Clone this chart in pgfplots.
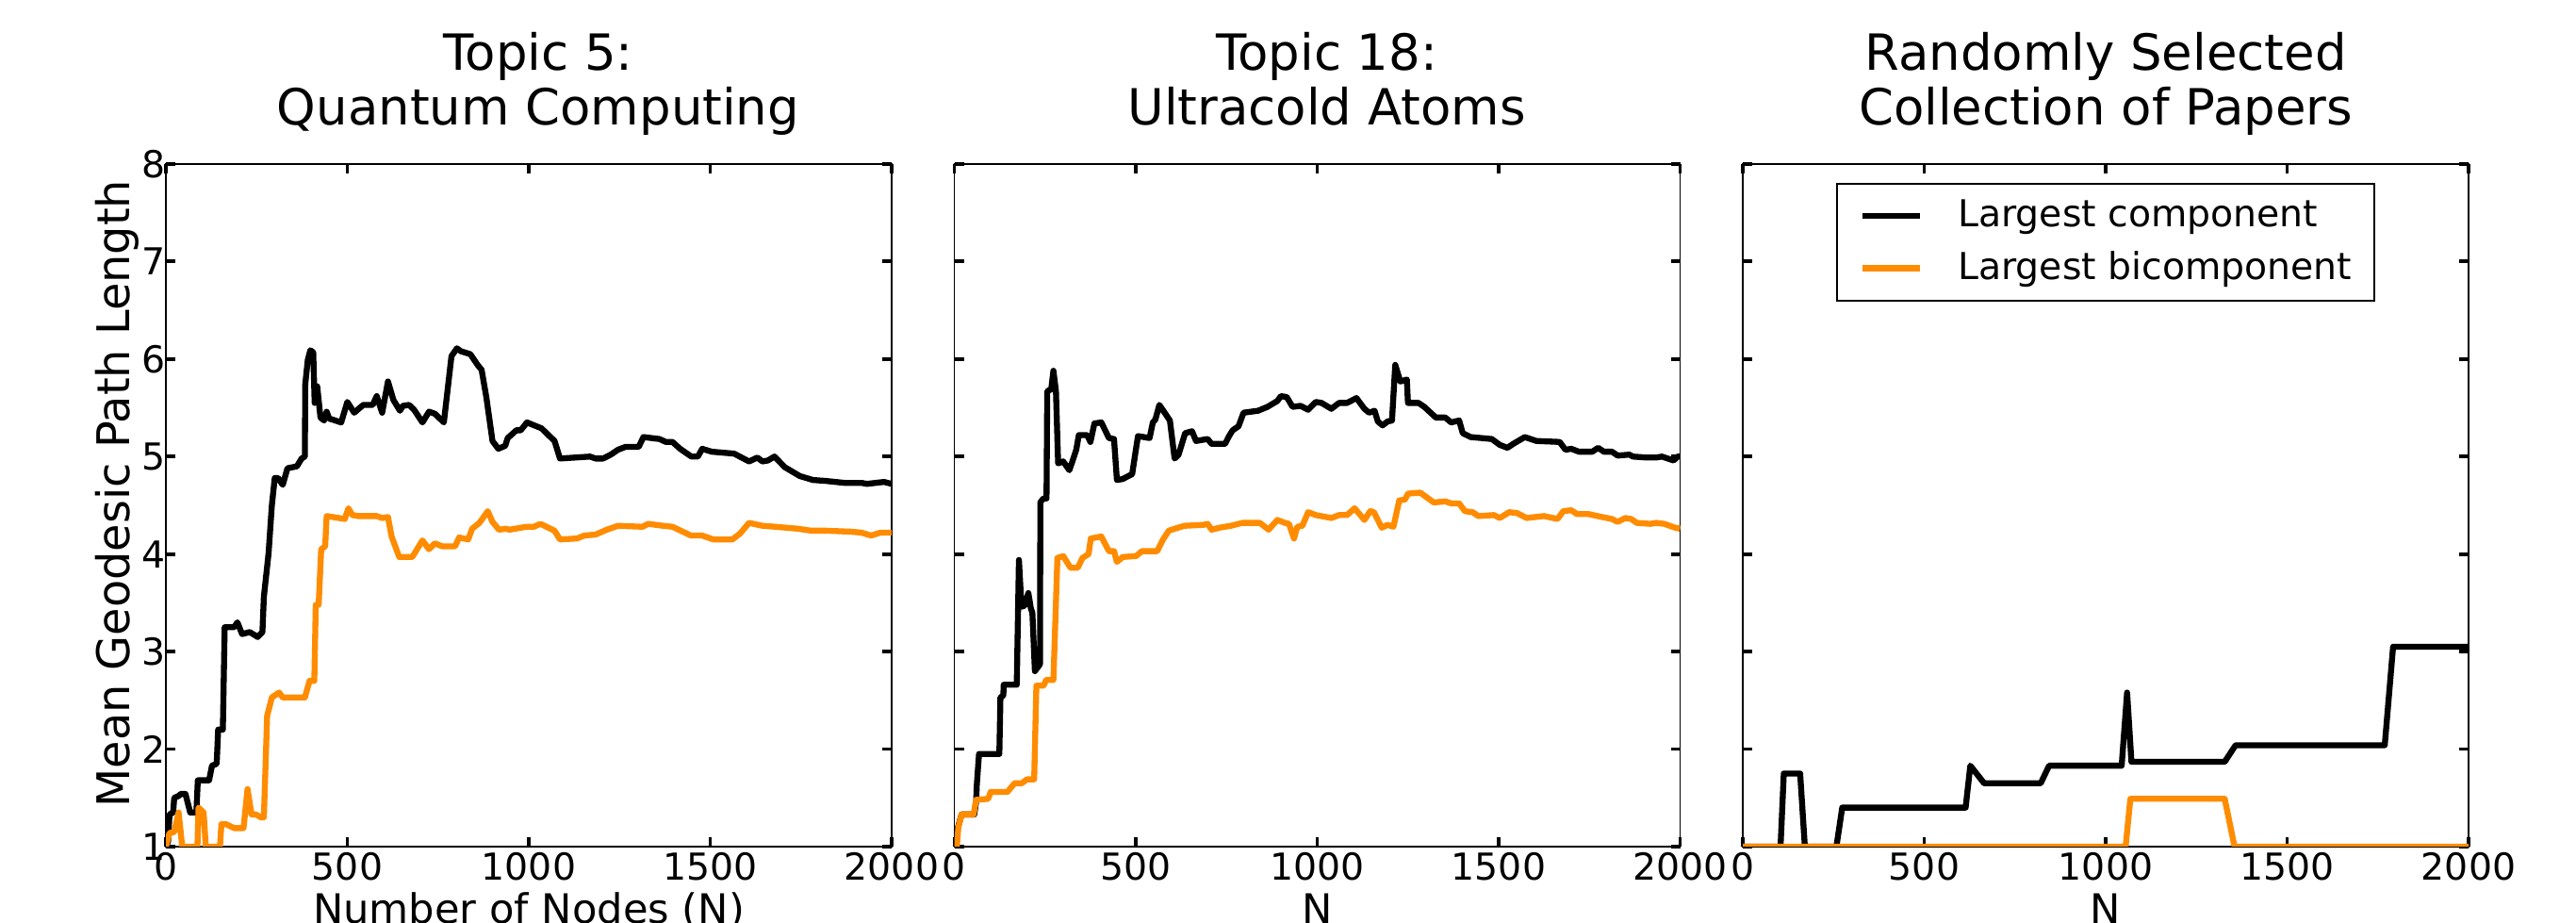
\documentclass[border=0pt]{standalone}
\usepackage{fontspec}
\setmainfont{DejaVu Sans}
\usepackage{pgfplots}
\pgfplotsset{compat=1.18}

\definecolor{dorange}{RGB}{255,140,0}
\newcommand\titlesize{\fontsize{15.05}{18}\selectfont}
\newcommand\xlabsize{\fontsize{12.3}{14}\selectfont}
\newcommand\ylabsize{\fontsize{13.6}{16}\selectfont}
\newcommand\ticksize{\fontsize{11.2}{13}\selectfont}

% one style for the three panels
\pgfplotsset{
  panel/.style={
    scale only axis, width=7.70cm, height=7.24cm,
    anchor=south west,
    xmin=0, xmax=2000, ymin=1, ymax=8,
    xtick={0,500,1000,1500,2000}, ytick={1,2,3,4,5,6,7,8},
    tick align=inside, major tick length=0.1cm,
    every tick/.style={black, line width=1.1pt},
    axis line style={black, line width=0.4pt},
    /pgf/number format/assume math mode=true,
    /pgf/number format/1000 sep={},
    tick label style={font=\ticksize},
    xticklabel style={inner sep=0pt, yshift=-0.06cm},
    yticklabel style={inner sep=0pt},
    xlabel style={font=\xlabsize, at={(axis description cs:0.5,-0.1119)}, anchor=base, inner sep=0pt},
    ylabel style={font=\ylabsize, at={(axis description cs:-0.0506,0.517)}, anchor=base, inner sep=0pt},
    every axis plot/.append style={line width=1.8pt, line join=round},
  },
}

\begin{document}
\begin{tikzpicture}
\useasboundingbox (0cm,0cm) rectangle (27.33cm,9.79cm);

% Topic 5
\begin{axis}[panel, name=ax1, at={(1.76cm,0.81cm)},
  xlabel={Number of Nodes (N)}, ylabel={Mean Geodesic Path Length}]
\addplot[black] coordinates {
(0,1.0)(6,1.05)(10,1.33)(20,1.35)(23,1.50)(35,1.52)(41,1.54)(54,1.54)(67,1.35)(84,1.35)
(88,1.68)(119,1.68)(127,1.83)(140,1.85)(144,2.20)(157,2.20)(162,3.25)(188,3.25)(197,3.30)(210,3.18)
(231,3.20)(253,3.15)(266,3.20)(270,3.56)(283,4.01)(292,4.50)(300,4.78)(309,4.78)(322,4.71)(335,4.88)
(361,4.90)(374,4.98)(383,5.00)(384,5.74)(391,5.99)(398,6.09)(406,6.07)(410,5.55)(417,5.72)(426,5.40)
(436,5.37)(443,5.46)(450,5.39)(483,5.35)(500,5.56)(519,5.45)(544,5.53)(570,5.53)(581,5.62)(596,5.45)
(612,5.77)(627,5.58)(645,5.47)(653,5.52)(670,5.53)(684,5.48)(707,5.35)(725,5.46)(741,5.44)(766,5.35)
(787,6.03)(802,6.11)(813,6.08)(839,6.05)(859,5.94)(870,5.89)(883,5.61)(900,5.16)(916,5.08)(935,5.11)
(942,5.19)(966,5.27)(978,5.27)(995,5.35)(1035,5.29)(1071,5.16)(1086,4.98)(1169,5.00)(1184,4.98)(1205,4.98)
(1226,5.02)(1246,5.07)(1267,5.10)(1303,5.10)(1316,5.20)(1360,5.18)(1378,5.15)(1396,5.15)(1417,5.08)(1448,5.00)
(1466,5.00)(1478,5.08)(1504,5.05)(1566,5.03)(1607,4.95)(1630,4.99)(1644,4.95)(1659,4.96)(1677,5.00)(1706,4.89)
(1747,4.80)(1783,4.76)(1819,4.75)(1871,4.73)(1917,4.73)(1932,4.72)(1979,4.74)(2000,4.72)
};
\addplot[dorange] coordinates {
(0,1.0)(10,1.14)(23,1.15)(35,1.35)(45,1.0)(87,1.0)(90,1.40)(104,1.35)(110,1.0)(149,1.0)
(153,1.23)(166,1.23)(188,1.19)(214,1.19)(225,1.59)(236,1.33)(248,1.33)(262,1.30)(270,1.30)(279,2.34)
(292,2.53)(300,2.55)(312,2.58)(322,2.53)(383,2.53)(396,2.70)(409,2.70)(413,3.48)(421,3.48)(428,4.05)
(439,4.08)(443,4.39)(493,4.36)(503,4.47)(514,4.40)(529,4.39)(581,4.39)(596,4.37)(612,4.38)(622,4.18)
(643,3.97)(679,3.97)(707,4.14)(715,4.10)(725,4.05)(741,4.11)(761,4.08)(797,4.08)(808,4.17)(833,4.15)
(844,4.26)(864,4.32)(887,4.44)(900,4.33)(918,4.25)(937,4.26)(947,4.25)(993,4.28)(1014,4.28)(1032,4.31)
(1071,4.24)(1086,4.15)(1133,4.16)(1153,4.19)(1184,4.20)(1215,4.25)(1246,4.29)(1313,4.28)(1329,4.31)(1370,4.29)
(1396,4.28)(1447,4.19)(1478,4.19)(1509,4.15)(1561,4.15)(1582,4.21)(1607,4.32)(1644,4.29)(1680,4.28)(1742,4.26)
(1778,4.24)(1819,4.24)(1886,4.23)(1917,4.22)(1943,4.19)(1969,4.22)(2000,4.22)
};
\end{axis}

% Topic 18
\begin{axis}[panel, name=ax2, at={(10.125cm,0.81cm)}, yticklabels={}, xlabel={N}]
\addplot[black] coordinates {
(0,1.0)(10,1.2)(20,1.33)(55,1.33)(60,1.46)(62,1.64)(68,1.95)(124,1.95)(127,2.53)(135,2.55)
(136,2.66)(172,2.66)(178,3.94)(185,3.46)(193,3.47)(204,3.60)(211,3.44)(215,3.40)(222,2.80)(232,2.85)
(236,2.87)(237,4.53)(245,4.57)(254,4.57)(256,5.67)(267,5.69)(273,5.88)(280,5.67)(286,4.93)(300,4.95)
(317,4.86)(336,5.07)(343,5.22)(366,5.22)(375,5.15)(386,5.34)(405,5.35)(426,5.19)(440,5.18)(448,4.76)
(464,4.77)(490,4.82)(506,5.21)(538,5.19)(547,5.35)(554,5.38)(565,5.53)(594,5.37)(607,4.98)(618,5.02)
(636,5.24)(655,5.26)(666,5.16)(698,5.18)(709,5.13)(746,5.13)(757,5.21)(767,5.27)(783,5.31)(797,5.45)
(837,5.47)(863,5.51)(890,5.57)(900,5.62)(916,5.61)(932,5.51)(954,5.52)(975,5.48)(996,5.56)(1012,5.55)
(1039,5.49)(1060,5.55)(1082,5.55)(1108,5.60)(1130,5.49)(1143,5.45)(1158,5.47)(1167,5.36)(1180,5.32)(1194,5.36)
(1206,5.37)(1215,5.94)(1229,5.77)(1247,5.79)(1250,5.55)(1279,5.55)(1295,5.51)(1327,5.40)(1353,5.40)(1369,5.35)
(1391,5.37)(1401,5.24)(1423,5.20)(1481,5.18)(1503,5.12)(1524,5.09)(1540,5.13)(1572,5.20)(1604,5.16)(1668,5.15)
(1684,5.07)(1700,5.08)(1721,5.05)(1758,5.05)(1774,5.09)(1790,5.05)(1812,5.05)(1828,5.01)(1860,5.02)(1870,5.00)
(1908,4.99)(1934,4.99)(1950,5.00)(1982,4.96)(1993,5.00)(2000,5.00)
};
\addplot[dorange] coordinates {
(0,1.0)(7,1.0)(11,1.2)(20,1.33)(53,1.33)(60,1.48)(93,1.49)(100,1.56)(146,1.56)(166,1.65)
(186,1.65)(200,1.69)(220,1.69)(226,2.65)(246,2.65)(253,2.71)(273,2.71)(284,3.96)(300,3.98)(320,3.86)
(340,3.86)(353,3.96)(370,4.00)(376,4.16)(405,4.18)(426,4.03)(440,4.03)(448,3.92)(464,3.97)(501,3.98)
(517,4.03)(559,4.03)(575,4.15)(591,4.24)(607,4.26)(634,4.29)(687,4.30)(698,4.31)(709,4.25)(730,4.27)
(762,4.29)(794,4.32)(842,4.32)(866,4.25)(890,4.35)(911,4.32)(922,4.31)(936,4.16)(945,4.28)(959,4.29)
(975,4.43)(996,4.40)(1039,4.37)(1060,4.40)(1082,4.40)(1103,4.47)(1130,4.35)(1146,4.44)(1156,4.43)(1178,4.27)
(1194,4.30)(1210,4.28)(1226,4.55)(1242,4.56)(1250,4.62)(1284,4.63)(1295,4.60)(1321,4.53)(1353,4.54)(1369,4.52)
(1391,4.52)(1407,4.44)(1428,4.43)(1444,4.39)(1487,4.40)(1503,4.37)(1529,4.43)(1551,4.42)(1577,4.37)(1625,4.39)
(1662,4.36)(1678,4.44)(1700,4.45)(1716,4.41)(1748,4.41)(1785,4.38)(1812,4.36)(1828,4.33)(1849,4.37)(1865,4.36)
(1881,4.32)(1918,4.31)(1934,4.32)(1956,4.31)(1987,4.27)(2000,4.26)
};
\end{axis}

% random papers
\begin{axis}[panel, name=ax3, at={(18.49cm,0.81cm)}, yticklabels={}, xlabel={N},
  legend cell align=left,
  legend image code/.code={\draw[#1] (0cm,0cm) -- (0.61cm,0cm);},
  legend style={at={(0.5,0.9724)}, anchor=north, draw=black, line width=0.5pt,
    font=\ticksize, inner xsep=0.24cm, inner ysep=0.17cm,
    row sep=0.21cm, column sep=0.37cm, nodes={inner sep=0pt}}]
\addplot[black] coordinates {
(0,1.0)(104,1.0)(113,1.75)(158,1.75)(171,1.0)(258,1.0)(274,1.40)(614,1.40)(627,1.83)(665,1.65)
(821,1.65)(844,1.83)(1044,1.83)(1059,2.58)(1071,1.87)(1328,1.87)(1358,2.04)(1769,2.04)(1792,3.05)(2000,3.05)
};
\addlegendentry{Largest component}
\addplot[dorange] coordinates {
(0,1.0)(1055,1.0)(1068,1.49)(1328,1.49)(1355,1.0)(2000,1.0)
};
\addlegendentry{Largest bicomponent}
\end{axis}

% two-line titles
\node[anchor=base, font=\titlesize, inner sep=0pt] at ([xshift=0.1cm, yshift=0.99cm]ax1.north) {Topic 5:};
\node[anchor=base, font=\titlesize, inner sep=0pt] at ([xshift=0.1cm, yshift=0.41cm]ax1.north) {Quantum Computing};
\node[anchor=base, font=\titlesize, inner sep=0pt] at ([xshift=0.1cm, yshift=0.99cm]ax2.north) {Topic 18:};
\node[anchor=base, font=\titlesize, inner sep=0pt] at ([xshift=0.1cm, yshift=0.41cm]ax2.north) {Ultracold Atoms};
\node[anchor=base, font=\titlesize, inner sep=0pt] at ([yshift=0.99cm]ax3.north) {Randomly Selected};
\node[anchor=base, font=\titlesize, inner sep=0pt] at ([yshift=0.41cm]ax3.north) {Collection of Papers};
\end{tikzpicture}
\end{document}
